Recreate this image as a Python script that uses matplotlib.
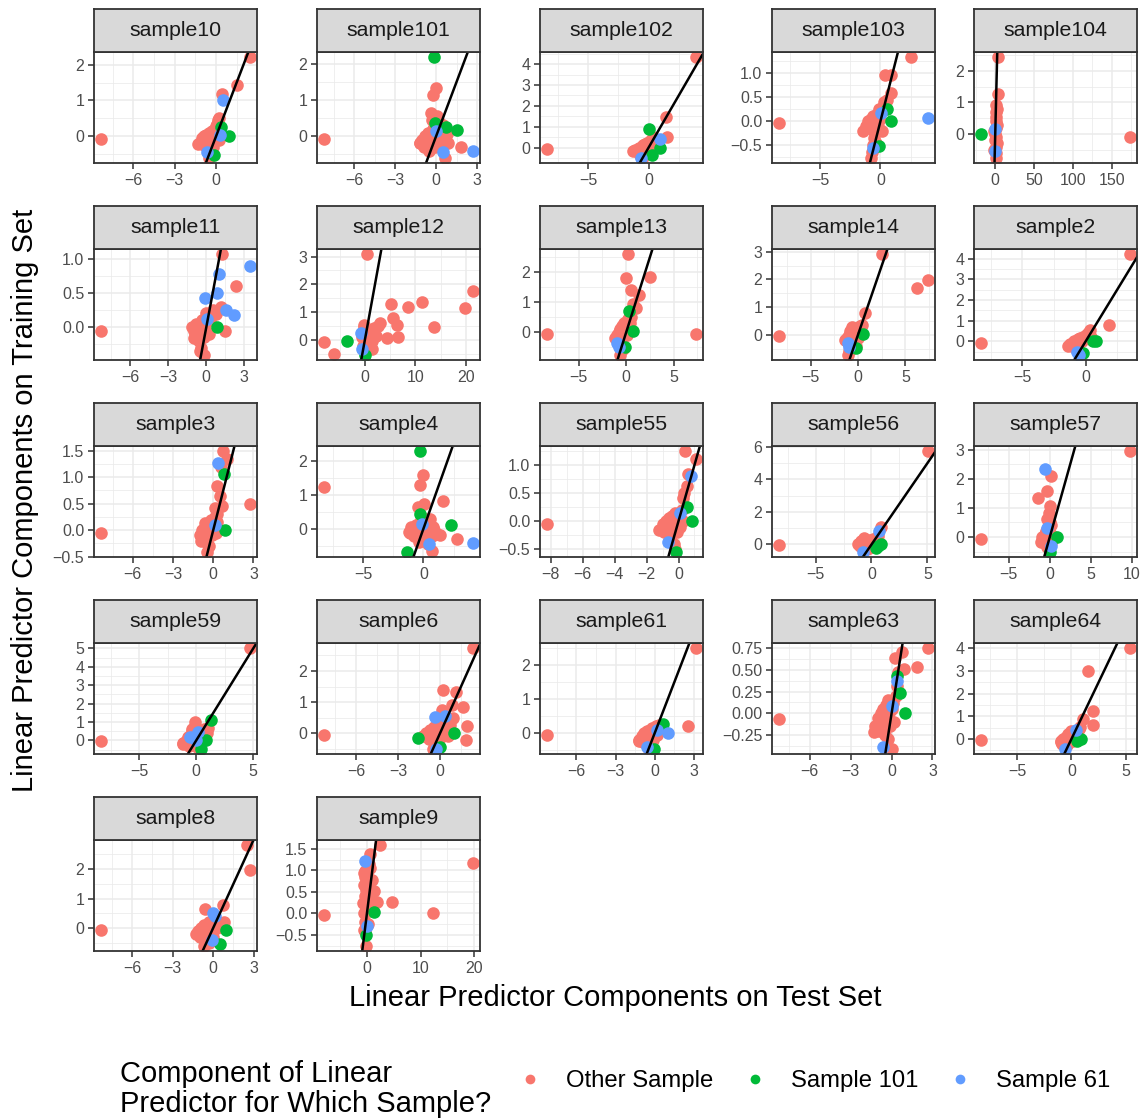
import numpy as np
import matplotlib.pyplot as plt
from matplotlib.lines import Line2D

plt.rcParams['font.family'] = ['Liberation Sans', 'DejaVu Sans']

# colours of the three groups
col_other = '#F8766D'
col_s101 = '#00BA38'
col_s61 = '#619CFF'

# ---- data: (test, train) linear predictor components, one set per panel ----
s10_other = [(-8.33, -0.06), (2.44, 2.21), (1.5, 1.44), (0.44, 1.17), (0.24, 0.5),
             (-1.3, -0.2), (-1.1, -0.15), (-1.0, -0.05), (-0.9, 0.0), (-0.8, -0.1), (-0.7, 0.05),
             (-0.6, -0.2), (-0.5, 0.1), (-0.4, -0.05), (-0.3, 0.15), (-0.2, 0.0), (-0.1, 0.2),
             (0.0, 0.3), (0.1, 0.1), (0.2, -0.1), (-0.2, -0.3), (-0.4, -0.45), (-0.5, -0.6),
             (0.1, 0.35), (-0.9, -0.25), (0.15, 0.45)]
s10_s101 = [(0.36, 0.27), (0.92, 0.01), (-0.12, -0.52)]
s10_s61 = [(0.53, 1.01), (-0.68, -0.43), (0.3, 0.05)]
s10_xticks = [-6, -3, 0]
s10_yticks = [0, 1, 2]

s101_other = [(-8.2, -0.07), (-0.02, 1.34), (-0.24, 1.15), (-0.37, 0.65), (0.05, 0.55),
              (1.83, -0.3), (0.66, -0.6), (-1.17, -0.18),
              (-1.2, -0.2), (-1.0, -0.1), (-0.9, -0.3), (-0.8, 0.0), (-0.7, -0.2), (-0.6, 0.1),
              (-0.5, -0.4), (-0.4, 0.05), (-0.3, -0.15), (-0.2, 0.2), (-0.1, -0.3), (0.0, 0.05),
              (0.1, -0.1), (0.2, 0.25), (0.3, -0.2), (0.4, 0.1), (0.5, 0.3), (0.6, -0.1),
              (0.8, 0.05), (0.9, -0.2), (-0.3, 0.45), (0.2, 0.4)]
s101_s101 = [(-0.12, 2.19), (-0.07, 0.37), (0.73, 0.25), (1.56, 0.18)]
s101_s61 = [(0.0, 0.14), (2.68, -0.4), (0.49, -0.43)]
s101_xticks = [-6, -3, 0, 3]
s101_yticks = [0, 1, 2]

s102_other = [(-8.38, -0.05), (3.89, 4.34), (1.42, 1.45), (1.52, 0.51), (0.34, 0.5),
              (-1.3, -0.15), (-1.1, -0.1), (-0.9, -0.2), (-0.8, 0.0), (-0.6, -0.1), (-0.5, 0.1),
              (-0.4, -0.3), (-0.3, 0.15), (-0.2, -0.05), (-0.1, 0.2), (0.0, 0.0), (0.1, 0.3),
              (0.2, -0.1), (0.3, 0.2), (0.5, 0.1), (0.6, 0.35), (-0.7, -0.35), (-0.5, -0.45)]
s102_s101 = [(0.07, 0.88), (0.91, -0.02), (0.24, -0.34)]
s102_s61 = [(0.91, 0.43), (-0.61, -0.5)]
s102_xticks = [-5, 0]
s102_yticks = [0, 1, 2, 3, 4]

s103_other = [(-8.34, -0.04), (2.53, 1.34), (0.41, 0.96), (0.91, 0.97), (0.91, 0.59),
              (0.57, 0.45), (-0.78, -0.77),
              (-1.4, -0.2), (-1.2, -0.1), (-1.0, 0.0), (-0.9, -0.15), (-0.8, 0.05), (-0.7, -0.05),
              (-0.6, 0.1), (-0.5, -0.2), (-0.4, 0.0), (-0.3, 0.15), (-0.2, -0.1), (-0.1, 0.25),
              (0.0, 0.05), (0.2, 0.3), (0.3, 0.4), (-0.5, -0.35), (-0.6, -0.5), (-0.7, -0.65),
              (-0.4, -0.45), (0.1, -0.2)]
s103_s101 = [(0.51, 0.26), (0.91, 0.01), (-0.1, -0.53)]
s103_s61 = [(0.07, 0.17), (3.89, 0.06), (-0.61, -0.57)]
s103_xticks = [-5, 0]
s103_yticks = [-0.5, 0, 0.5, 1.0]

s104_other = [(173, -0.08), (4.2, 2.44), (3, 1.28), (1.3, 0.92), (1.3, 0.7), (2, 0.8),
              (0.5, -0.76), (1, -0.6), (-1, -0.5), (0.5, -0.4), (2, -0.3), (-0.5, -0.2),
              (1.5, -0.1), (0, 0.0), (-1, 0.1), (1, 0.2), (2, 0.3), (0.5, 0.4), (1, 0.55)]
s104_s101 = [(-17.8, 0.0)]
s104_s61 = [(0.0, 0.15), (-0.5, -0.55)]
s104_xticks = [0, 50, 100, 150]
s104_yticks = [0, 1, 2]

s11_other = [(-8.26, -0.06), (1.2, 1.08), (2.34, 0.61), (1.12, 0.3), (-0.05, 0.21), (1.46, -0.06),
             (-1.15, 0.01), (-1.0, -0.05), (-0.96, -0.16), (-0.8, 0.05), (-0.7, -0.1), (-0.6, -0.2),
             (-0.5, 0.0), (-0.4, -0.3), (-0.3, 0.1), (-0.2, -0.15), (-0.1, 0.05), (0.0, -0.05),
             (0.1, 0.15), (0.2, -0.1), (0.3, 0.1), (-0.18, -0.41), (-0.5, -0.35), (0.5, 0.25),
             (0.8, 0.2)]
s11_s101 = [(0.86, 0.01)]
s11_s61 = [(3.41, 0.91), (0.99, 0.79), (0.86, 0.5), (-0.08, 0.43), (1.56, 0.25), (2.16, 0.18),
           (0.08, 0.12)]
s11_xticks = [-6, -3, 0, 3]
s11_yticks = [0, 0.5, 1.0]

s12_other = [(-8.0, -0.06), (-6.06, -0.5), (0.46, 3.09), (21.3, 1.76), (19.8, 1.16), (11.3, 1.38),
             (8.47, 1.18), (5.15, 1.28), (13.6, 0.48), (5.54, 0.78), (6.32, 0.54), (6.51, 0.12),
             (4.36, 0.06), (3.06, 0.62), (1.76, 0.42), (-0.2, 0.54), (1.1, 0.18), (1.43, -0.34),
             (-0.5, 0.1), (-0.3, -0.2), (0, 0.3), (0.2, 0.0), (0.4, 0.2), (0.5, -0.1), (0.7, 0.35),
             (0.9, 0.05), (1.2, 0.25), (1.5, -0.05), (1.8, 0.3), (2.2, 0.15), (0.3, -0.35),
             (-0.2, 0.45), (2.5, 0.5), (1.0, -0.2)]
s12_s101 = [(-3.45, -0.04), (-0.07, -0.54)]
s12_s61 = [(-0.85, 0.26), (-0.52, -0.32)]
s12_xticks = [0, 10, 20]
s12_yticks = [0, 1, 2, 3]

s13_other = [(-8.28, -0.07), (7.3, -0.07), (0.17, 2.6), (0, 1.82), (2.49, 1.83), (0.52, 1.41),
             (1.37, 1.24), (0.73, 0.94), (1.07, 0.82), (0.52, 0.51), (-0.69, -0.75),
             (-1.2, -0.2), (-1.0, -0.1), (-0.8, 0.0), (-0.7, -0.25), (-0.6, 0.1), (-0.5, -0.05),
             (-0.4, 0.2), (-0.3, -0.15), (-0.2, 0.3), (-0.1, 0.05), (0.0, 0.35), (0.1, -0.1),
             (0.2, 0.45), (0.3, 0.15), (-0.5, -0.4), (-0.3, -0.55), (0.4, 0.3)]
s13_s101 = [(0.3, 0.7), (0.73, 0.03), (-0.13, -0.49)]
s13_s61 = [(-0.95, -0.35), (-0.77, -0.49)]
s13_xticks = [-5, 0, 5]
s13_yticks = [0, 1, 2]

s14_other = [(-8.28, -0.06), (2.54, 2.92), (7.33, 1.98), (6.25, 1.68), (0.73, 0.77), (0.39, 0.34),
             (-0.65, 0.28), (-1.08, -0.73),
             (-1.4, -0.2), (-1.2, -0.1), (-1.0, 0.0), (-0.9, -0.3), (-0.8, 0.15), (-0.6, -0.05),
             (-0.5, 0.25), (-0.4, -0.2), (-0.3, 0.1), (-0.2, -0.4), (-0.1, 0.2), (0.0, -0.1),
             (0.2, 0.3), (0.3, 0.05), (-0.7, -0.5), (-1.0, -0.6)]
s14_s101 = [(0.52, 0.04), (-0.22, -0.49)]
s14_s61 = [(-0.99, -0.45), (-1.1, -0.3)]
s14_xticks = [-5, 0, 5]
s14_yticks = [0, 1, 2, 3]

s2_other = [(-8.23, -0.05), (3.48, 4.22), (1.87, 0.78), (0.32, 0.57),
            (-1.4, -0.2), (-1.2, -0.1), (-1.0, -0.15), (-0.9, 0.0), (-0.7, -0.1), (-0.6, 0.1),
            (-0.5, -0.05), (-0.4, 0.15), (-0.3, 0.0), (-0.2, 0.2), (-0.1, 0.1), (0.0, 0.3),
            (0.1, 0.15), (0.2, 0.4), (0.4, 0.2), (0.5, 0.05), (-0.8, -0.3), (-0.5, -0.45)]
s2_s101 = [(0.81, 0.03), (-0.23, -0.57), (0.6, 0.0)]
s2_s61 = [(-0.55, -0.65), (-0.7, -0.5)]
s2_xticks = [-5, 0]
s2_yticks = [0, 1, 2, 3, 4]

s3_other = [(-8.33, -0.06), (0.74, 1.49), (1.03, 1.34), (0.59, 1.19), (0.25, 0.84), (0.54, 0.64),
            (2.71, 0.49), (0.67, 0.46), (0.1, 0.41), (0.3, 0.3), (-0.64, 0.13),
            (-1.0, -0.1), (-0.9, -0.2), (-0.8, 0.0), (-0.7, -0.15), (-0.6, 0.05), (-0.5, -0.25),
            (-0.4, 0.1), (-0.3, -0.05), (-0.2, 0.2), (-0.1, -0.1), (0.0, 0.05), (0.1, 0.25),
            (0.2, -0.05), (0.3, 0.15), (-0.44, -0.41), (-0.3, -0.3)]
s3_s101 = [(0.79, 1.05), (0.91, 0.0)]
s3_s61 = [(0.34, 1.26), (0.17, 0.09)]
s3_xticks = [-6, -3, 0, 3]
s3_yticks = [-0.5, 0, 0.5, 1.0, 1.5]

s4_other = [(-8.19, 1.23), (-0.05, 1.59), (-0.27, 1.29), (1.65, 0.82), (-0.41, 0.64), (0.05, 0.72),
            (0.55, 0.28), (1.37, -0.17), (2.75, -0.29), (0.69, -0.64), (-1.1, -0.12),
            (-1.2, -0.1), (-1.0, 0.05), (-0.8, -0.2), (-0.6, 0.1), (-0.5, -0.05), (-0.3, 0.2),
            (-0.2, -0.3), (0.0, 0.0), (0.2, -0.15), (0.3, 0.3), (0.5, 0.1), (0.7, -0.2),
            (0.9, -0.05), (1.1, -0.15), (0.4, -0.45), (-0.4, -0.4), (0.8, 0.05)]
s4_s101 = [(-0.27, 2.28), (-0.27, 0.42), (2.28, 0.11), (-1.32, -0.68)]
s4_s61 = [(-0.14, 0.15), (4.07, -0.41), (0.49, -0.46)]
s4_xticks = [-5, 0]
s4_yticks = [0, 1, 2]

s55_other = [(-8.21, -0.05), (0.41, 1.25), (1.07, 1.1), (0.61, 0.84), (0.56, 0.62), (0.36, 0.5),
             (0.28, 0.41),
             (-1.2, -0.15), (-1.0, -0.05), (-0.9, -0.2), (-0.8, 0.0), (-0.7, -0.1), (-0.6, 0.05),
             (-0.5, -0.25), (-0.4, 0.1), (-0.3, -0.05), (-0.2, 0.15), (-0.1, -0.2), (0.0, 0.05),
             (0.1, -0.1), (0.2, 0.2), (-0.3, -0.4), (-0.2, -0.5), (0.3, 0.0)]
s55_s101 = [(0.56, 0.26), (0.87, 0.0), (-0.15, -0.55)]
s55_s61 = [(0.79, 0.81), (0.1, 0.15), (-0.66, -0.38)]
s55_xticks = [-8, -6, -4, -2, 0]
s55_yticks = [-0.5, 0, 0.5, 1.0]

s56_other = [(-8.24, -0.06), (5.02, 5.75), (0.88, 1.05),
             (-1.25, 0.0), (-1.0, -0.1), (-0.9, 0.2), (-0.7, 0.4), (-0.6, -0.05), (-0.5, 0.1),
             (-0.3, 0.25), (-0.2, -0.2), (0.0, 0.1), (0.1, 0.35), (0.2, -0.1), (0.4, 0.2),
             (0.6, 0.5), (0.3, 0.0), (-0.4, -0.3)]
s56_s101 = [(0.81, 0.06), (0.44, -0.24), (0.6, -0.1)]
s56_s61 = [(0.7, 0.81), (-0.77, -0.46)]
s56_xticks = [-5, 0, 5]
s56_yticks = [0, 2, 4, 6]

s57_other = [(-8.35, -0.06), (9.75, 2.95), (0.15, 2.11), (-0.35, 1.57), (-1.45, 1.33), (0.05, 1.07),
             (-0.1, 0.84), (-0.35, 0.61),
             (-1.1, -0.16), (-0.9, 0.0), (-0.7, -0.1), (-0.6, 0.1), (-0.5, -0.25), (-0.4, 0.2),
             (-0.3, 0.0), (-0.2, 0.3), (-0.1, -0.1), (0.0, 0.15), (0.1, 0.4), (0.2, -0.2),
             (0.4, 0.05), (-0.3, -0.35), (0.0, 0.5)]
s57_s101 = [(0.9, 0.0), (0.05, -0.51)]
s57_s61 = [(-0.6, 2.34), (-0.35, 0.32), (0.15, -0.31)]
s57_xticks = [-5, 0, 5, 10]
s57_yticks = [0, 1, 2, 3]

s59_other = [(-8.33, -0.04), (4.68, 5.02), (-0.09, 1.01), (1.02, 0.65), (-0.38, 0.62), (-1.17, -0.16),
             (-1.2, -0.2), (-1.0, -0.1), (-0.8, 0.0), (-0.7, 0.2), (-0.6, -0.3), (-0.5, 0.1),
             (-0.3, 0.35), (-0.2, -0.15), (0.0, 0.2), (0.2, 0.5), (0.3, 0.0), (0.5, 0.3),
             (0.7, 0.6), (0.9, 0.4), (-0.4, 0.5), (0.1, -0.35)]
s59_s101 = [(1.32, 1.1), (0.88, 0.02), (0.44, -0.47)]
s59_s61 = [(0.15, 0.43), (-0.58, 0.16), (0.0, 0.0)]
s59_xticks = [-5, 0, 5]
s59_yticks = [0, 1, 2, 3, 4, 5]

s6_other = [(-8.29, -0.05), (2.33, 2.74), (0.24, 1.38), (1.14, 1.32), (1.62, 0.83), (0.83, 0.91),
            (0.12, 0.74), (1.9, 0.23), (1.86, -0.21), (-1.07, -0.08), (-0.52, -0.51),
            (-1.2, -0.1), (-1.0, 0.0), (-0.8, -0.2), (-0.7, 0.1), (-0.5, -0.1), (-0.4, 0.2),
            (-0.2, 0.0), (-0.1, 0.3), (0.0, -0.15), (0.2, 0.15), (0.3, 0.4), (0.5, 0.05),
            (0.7, 0.25), (0.9, 0.5), (0.6, -0.1), (-0.3, -0.35)]
s6_s101 = [(1.02, 0.01), (-1.55, -0.16), (0.0, -0.46)]
s6_s61 = [(-0.36, 0.52), (0.36, 0.55), (-0.29, -0.51)]
s6_xticks = [-6, -3, 0]
s6_yticks = [0, 1, 2]

s61_other = [(-8.22, -0.07), (3.13, 2.51), (2.56, 0.2), (0.31, 0.25), (-1.19, -0.24),
             (-1.2, -0.2), (-1.0, -0.1), (-0.9, -0.25), (-0.8, 0.0), (-0.7, -0.15), (-0.6, 0.05),
             (-0.5, -0.3), (-0.4, 0.1), (-0.3, -0.1), (-0.2, 0.15), (-0.1, -0.2), (0.0, 0.05),
             (0.1, 0.2), (0.2, -0.05), (-0.5, -0.45)]
s61_s101 = [(0.63, 0.28), (-0.09, -0.47)]
s61_s61 = [(1.0, 0.0), (-0.63, -0.42), (0.2, 0.1)]
s61_xticks = [-6, -3, 0, 3]
s61_yticks = [0, 1, 2]

s63_other = [(-8.23, -0.06), (2.64, 0.75), (0.75, 0.7), (0.24, 0.64), (1.89, 0.53), (0.9, 0.51),
             (0.45, 0.48), (0.39, 0.31), (-0.3, 0.15), (-1.29, -0.22),
             (-1.2, -0.15), (-1.0, -0.05), (-0.9, -0.2), (-0.8, 0.0), (-0.7, -0.1), (-0.6, 0.05),
             (-0.5, -0.25), (-0.4, 0.1), (-0.3, -0.05), (-0.2, 0.0), (-0.1, -0.15), (0.0, 0.05),
             (0.1, 0.12), (0.2, -0.1), (-0.3, -0.3), (0.0, -0.41), (0.3, 0.2)]
s63_s101 = [(0.39, 0.43), (0.6, 0.23), (0.99, 0.0)]
s63_s61 = [(0.39, 0.37), (0.06, 0.08), (-0.6, -0.39)]
s63_xticks = [-6, -3, 0, 3]
s63_yticks = [-0.25, 0, 0.25, 0.5, 0.75]

s64_other = [(-8.27, -0.04), (5.34, 4.0), (1.5, 3.01), (1.99, 1.22), (1.99, 0.63), (1.05, 0.88),
             (0.75, 0.51), (-0.08, 0.37), (-0.94, -0.15),
             (-1.0, -0.1), (-0.9, -0.2), (-0.8, 0.0), (-0.6, -0.1), (-0.5, 0.1), (-0.4, -0.25),
             (-0.3, 0.2), (-0.2, 0.0), (0.0, 0.25), (0.1, -0.1), (0.3, 0.3), (0.5, 0.1),
             (0.7, 0.45), (0.6, -0.05), (-0.6, -0.35)]
s64_s101 = [(0.86, 0.0), (0.5, -0.1)]
s64_s61 = [(0.38, 0.4), (-0.56, -0.44)]
s64_xticks = [-5, 0, 5]
s64_yticks = [0, 1, 2, 3, 4]

s8_other = [(-8.28, -0.07), (2.5, 2.82), (2.7, 1.97), (0.71, 0.79), (-0.64, 0.63), (0.78, 0.22),
            (-1.3, -0.2), (-1.1, -0.1), (-1.0, -0.3), (-0.9, 0.0), (-0.8, -0.15), (-0.7, 0.1),
            (-0.6, -0.4), (-0.5, 0.05), (-0.4, -0.2), (-0.3, 0.2), (-0.2, -0.1), (-0.1, 0.1),
            (0.0, -0.3), (0.1, 0.3), (0.3, 0.0), (0.5, 0.15), (-0.69, -0.61), (-0.3, -0.5)]
s8_s101 = [(0.96, -0.07), (0.54, -0.53)]
s8_s61 = [(-0.02, 0.51), (0.1, 0.4), (-0.07, -0.41)]
s8_xticks = [-6, -3, 0, 3]
s8_yticks = [0, 1, 2]

s9_other = [(-7.93, -0.05), (19.7, 1.18), (12.4, 0.0), (4.64, 0.27), (2.35, 1.59), (0.5, 1.38),
            (-0.31, 0.98), (0.93, 0.77), (1.24, 0.53), (1.86, 0.26), (-0.43, -0.41), (-0.12, -0.76),
            (-0.5, -0.4), (-0.3, -0.2), (0.2, -0.25), (-0.6, 0.0), (0.3, 0.05), (-0.2, 0.1),
            (0.5, 0.2), (-0.8, 0.25), (0.2, 0.35), (-0.4, 0.4), (0.6, 0.45), (-0.1, 0.55),
            (0.4, 0.6), (-0.5, 0.65), (0.2, 0.75), (-0.3, 0.85), (0.1, 0.92), (-0.6, 0.95),
            (0.5, 1.05), (0.3, 1.15)]
s9_s101 = [(1.24, 0.02), (-0.12, -0.5)]
s9_s61 = [(-0.43, 1.22), (0.0, -0.29)]
s9_xticks = [0, 10, 20]
s9_yticks = [-0.5, 0, 0.5, 1.0, 1.5]

panels = [
    ('sample10', s10_other, s10_s101, s10_s61, s10_xticks, s10_yticks),
    ('sample101', s101_other, s101_s101, s101_s61, s101_xticks, s101_yticks),
    ('sample102', s102_other, s102_s101, s102_s61, s102_xticks, s102_yticks),
    ('sample103', s103_other, s103_s101, s103_s61, s103_xticks, s103_yticks),
    ('sample104', s104_other, s104_s101, s104_s61, s104_xticks, s104_yticks),
    ('sample11', s11_other, s11_s101, s11_s61, s11_xticks, s11_yticks),
    ('sample12', s12_other, s12_s101, s12_s61, s12_xticks, s12_yticks),
    ('sample13', s13_other, s13_s101, s13_s61, s13_xticks, s13_yticks),
    ('sample14', s14_other, s14_s101, s14_s61, s14_xticks, s14_yticks),
    ('sample2', s2_other, s2_s101, s2_s61, s2_xticks, s2_yticks),
    ('sample3', s3_other, s3_s101, s3_s61, s3_xticks, s3_yticks),
    ('sample4', s4_other, s4_s101, s4_s61, s4_xticks, s4_yticks),
    ('sample55', s55_other, s55_s101, s55_s61, s55_xticks, s55_yticks),
    ('sample56', s56_other, s56_s101, s56_s61, s56_xticks, s56_yticks),
    ('sample57', s57_other, s57_s101, s57_s61, s57_xticks, s57_yticks),
    ('sample59', s59_other, s59_s101, s59_s61, s59_xticks, s59_yticks),
    ('sample6', s6_other, s6_s101, s6_s61, s6_xticks, s6_yticks),
    ('sample61', s61_other, s61_s101, s61_s61, s61_xticks, s61_yticks),
    ('sample63', s63_other, s63_s101, s63_s61, s63_xticks, s63_yticks),
    ('sample64', s64_other, s64_s101, s64_s61, s64_xticks, s64_yticks),
    ('sample8', s8_other, s8_s101, s8_s61, s8_xticks, s8_yticks),
    ('sample9', s9_other, s9_s101, s9_s61, s9_xticks, s9_yticks),
]

legend_labels = ['Other Sample', 'Sample 101', 'Sample 61']
legend_title = 'Component of Linear\nPredictor for Which Sample?'


def tick_labels(ticks):
    dec = 0
    for t in ticks:
        s = ('%.2f' % t).rstrip('0').rstrip('.')
        if '.' in s:
            dec = max(dec, len(s.split('.')[1]))
    return [('%.*f' % (dec, t)).replace('-', '\u2212') for t in ticks]


def minor_breaks(ticks, lo, hi):
    step = ticks[1] - ticks[0]
    m = np.arange(ticks[0] - step / 2, ticks[-1] + step, step)
    return [v for v in m if lo <= v <= hi]


W, H = 1143, 1120
fig = plt.figure(figsize=(W / 100, H / 100), dpi=100)

col_left = [94, 317, 540, 772, 974]
row_top = [52, 249, 446, 643, 840]
pw, ph, sh = 163, 111, 43
border = '#333333'

for i, (name, oth, g101, g61, xt, yt) in enumerate(panels):
    r, c = divmod(i, 5)
    left, top = col_left[c], row_top[r]
    ax = fig.add_axes([left / W, 1 - (top + ph) / H, pw / W, ph / H])

    allx = [p[0] for p in oth + g101 + g61]
    ally = [p[1] for p in oth + g101 + g61]
    xlo, xhi = min(allx), max(allx)
    ylo, yhi = min(ally), max(ally)
    dx, dy = 0.05 * (xhi - xlo), 0.05 * (yhi - ylo)
    xlim = (xlo - dx, xhi + dx)
    ylim = (ylo - dy, yhi + dy)

    for pts, col in [(oth, col_other), (g101, col_s101), (g61, col_s61)]:
        ax.scatter([p[0] for p in pts], [p[1] for p in pts], s=82, color=col,
                   linewidths=0, zorder=2)
    ax.axline((0, 0), slope=1, color='black', lw=1.8, zorder=3)

    ax.set_xlim(xlim)
    ax.set_ylim(ylim)
    ax.set_xticks(xt)
    ax.set_xticklabels(tick_labels(xt))
    ax.set_yticks(yt)
    ax.set_yticklabels(tick_labels(yt))
    ax.set_xticks(minor_breaks(xt, *xlim), minor=True)
    ax.set_yticks(minor_breaks(yt, *ylim), minor=True)
    ax.grid(which='major', color='#EBEBEB', lw=1.1)
    ax.grid(which='minor', color='#EBEBEB', lw=0.55)
    ax.set_axisbelow(True)
    ax.tick_params(which='major', length=4.5, width=1.1, color=border,
                   labelsize=11.5, labelcolor='#4D4D4D', pad=2.5)
    ax.tick_params(which='minor', length=0)
    for sp in ax.spines.values():
        sp.set_color(border)
        sp.set_linewidth(1.3)
        sp.set_zorder(4)

    sax = fig.add_axes([left / W, 1 - top / H, pw / W, sh / H])
    sax.set_facecolor('#D9D9D9')
    sax.set_xticks([])
    sax.set_yticks([])
    for sp in sax.spines.values():
        sp.set_color(border)
        sp.set_linewidth(1.3)
    sax.text(0.5, 0.5, name, ha='center', va='center', fontsize=15.3,
             color='#1A1A1A', transform=sax.transAxes)

fig.text(615 / W, 1 - 998 / H, 'Linear Predictor Components on Test Set',
         ha='center', va='center', fontsize=21)
fig.text(25 / W, 1 - 500 / H, 'Linear Predictor Components on Training Set',
         ha='center', va='center', rotation=90, fontsize=21)

fig.text(120 / W, 1 - 1089 / H, legend_title, ha='left', va='center',
         fontsize=21, linespacing=1.05)
handles = [Line2D([], [], ls='none', marker='o', ms=7, mec='none', mfc=cc)
           for cc in [col_other, col_s101, col_s61]]
fig.legend(handles, legend_labels, loc='center left',
           bbox_to_anchor=(518 / W, 1 - 1081 / H), ncol=3, frameon=False,
           fontsize=17.2, handlelength=1.0, handletextpad=1.0, columnspacing=1.25,
           borderpad=0, borderaxespad=0)

fig.savefig('out.png', dpi=100)
